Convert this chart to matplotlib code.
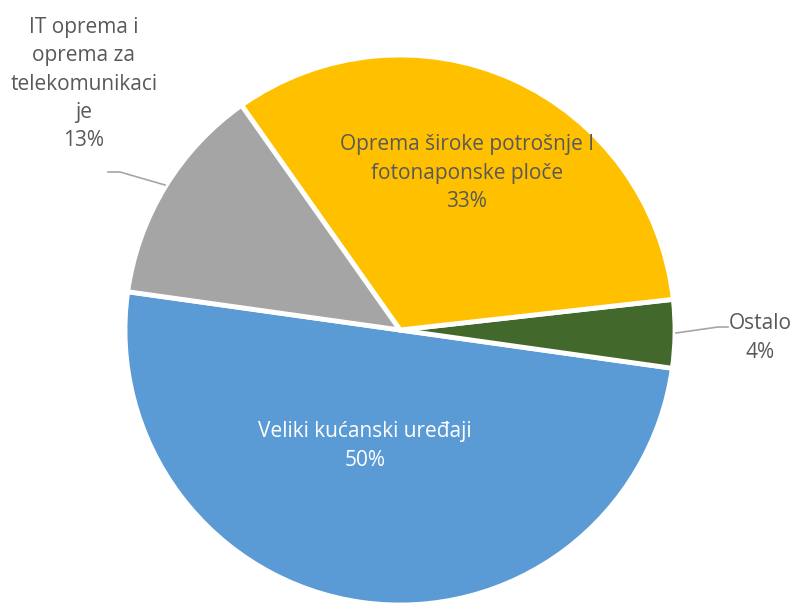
import matplotlib

matplotlib.use("Agg")

import matplotlib.pyplot as plt


CATEGORIES = [
    "Veliki kućanski uređaji",
    "Ostalo",
    "Oprema široke potrošnje I\nfotonaponske ploče",
    "IT oprema i\noprema za\ntelekomunikaci\nje",
]
SHARES = [50, 4, 33, 13]
COLORS = ["#5B9BD5", "#43682B", "#FFC000", "#A5A5A5"]

WIDTH, HEIGHT = 797, 603
TEXT_GRAY = "#595959"


def px(y):
    # picture rows run downwards, axes y runs upwards
    return HEIGHT - y


def main() -> None:
    plt.rcParams["font.family"] = ["Open Sans", "DejaVu Sans"]

    fig = plt.figure(figsize=(WIDTH / 100, HEIGHT / 100), dpi=100)
    ax = fig.add_axes([0, 0, 1, 1])

    ax.pie(
        SHARES,
        colors=COLORS,
        startangle=172,
        counterclock=True,
        center=(400, px(330)),
        radius=275,
        explode=[0.02, 0.02, 0.01, 0.01],
        wedgeprops={"edgecolor": "white", "linewidth": 3.5},
        frame=True,
    )
    ax.set_xlim(0, WIDTH)
    ax.set_ylim(0, HEIGHT)
    ax.set_aspect("equal")
    ax.axis("off")

    labels = [f"{c}\n{s}%" for c, s in zip(CATEGORIES, SHARES)]
    fs = 15
    ls = 1.45

    ax.text(365, px(446), labels[0], color="white", fontsize=fs,
            ha="center", va="center", linespacing=ls)
    ax.text(467, px(173), labels[2], color=TEXT_GRAY, fontsize=fs,
            ha="center", va="center", linespacing=ls)
    ax.text(84, px(84), labels[3], color=TEXT_GRAY, fontsize=fs,
            ha="center", va="center", linespacing=ls)
    ax.text(760, px(338), labels[1], color=TEXT_GRAY, fontsize=fs,
            ha="center", va="center", linespacing=ls)

    ax.plot([108, 120, 165], [px(172), px(172), px(185)], color="#A6A6A6", lw=1.2)
    ax.plot([676, 718, 728], [px(333), px(327), px(327)], color="#A6A6A6", lw=1.2)

    fig.savefig("out.png", dpi=100)
    plt.close(fig)


if __name__ == "__main__":
    main()
